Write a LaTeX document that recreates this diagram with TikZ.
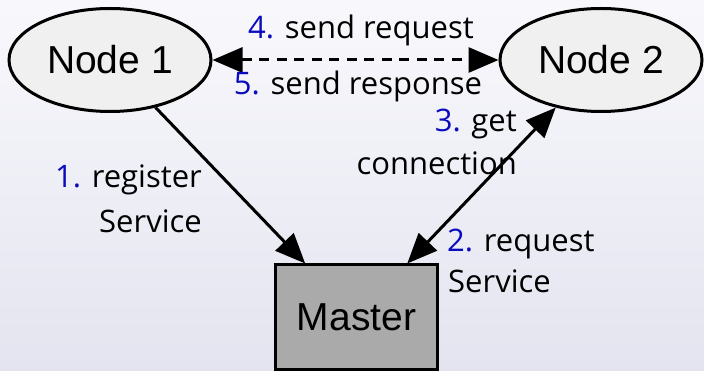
\documentclass[tikz,border=0pt]{standalone}
\usepackage{fontspec}
\setmainfont{Open Sans}
\newfontfamily\nodefont{Liberation Sans}
\usetikzlibrary{shapes.geometric,arrows.meta}
\definecolor{bgtop}{RGB}{248,248,252}
\definecolor{bgbot}{RGB}{228,228,240}
\definecolor{numblue}{RGB}{10,10,190}
\definecolor{ellfill}{RGB}{240,240,240}
\definecolor{masterfill}{RGB}{170,170,170}
\begin{document}
\begin{tikzpicture}[x=1pt,y=-1pt,
  ellnode/.style={ellipse,draw=black,line width=3pt,fill=ellfill,minimum width=202pt,minimum height=103pt,inner sep=0pt,font=\nodefont\fontsize{39}{47}\selectfont},
  boxnode/.style={rectangle,draw=black,line width=3pt,fill=masterfill,minimum width=162pt,minimum height=104pt,inner sep=0pt,font=\nodefont\fontsize{39}{47}\selectfont},
  lbl/.style={inner sep=0pt,font=\fontsize{31}{40}\selectfont},
  conn/.style={line width=3pt,-{Triangle[length=30pt,width=25pt]}},
  bconn/.style={line width=3pt,{Triangle[length=30pt,width=25pt]}-{Triangle[length=30pt,width=25pt]}},
  num/.style={text=numblue}
]
\shade[top color=bgtop,bottom color=bgbot] (0,0) rectangle (704,371);
\useasboundingbox (0,0) rectangle (704,371);

\node[ellnode] (n1) at (110,60) {Node 1};
\node[ellnode] (n2) at (601,60) {Node 2};
\node[boxnode] (master) at (356.5,317) {Master};

\draw[conn] (n1) -- (master);
\draw[bconn] (master) -- (n2);
\draw[bconn,dash pattern=on 10pt off 7.5pt] (n1) -- (n2);

\node[lbl,anchor=base] (l4) at (361,39) {\textcolor{numblue}{4.} send request};
\node[lbl,anchor=base] (l5) at (358,95) {\textcolor{numblue}{5.} send response};
\node[lbl,anchor=base east] (l1a) at (202,188) {\textcolor{numblue}{1.} register};
\node[lbl,anchor=base east] (l1b) at (202,233) {Service};
\node[lbl,anchor=base east] (l3a) at (517,132) {\textcolor{numblue}{3.} get};
\node[lbl,anchor=base east] (l3b) at (517,175) {connection};
\node[lbl,anchor=base west] (l2a) at (447,252) {\textcolor{numblue}{2.} request};
\node[lbl,anchor=base west] (l2b) at (448,293) {Service};
\end{tikzpicture}
\end{document}
